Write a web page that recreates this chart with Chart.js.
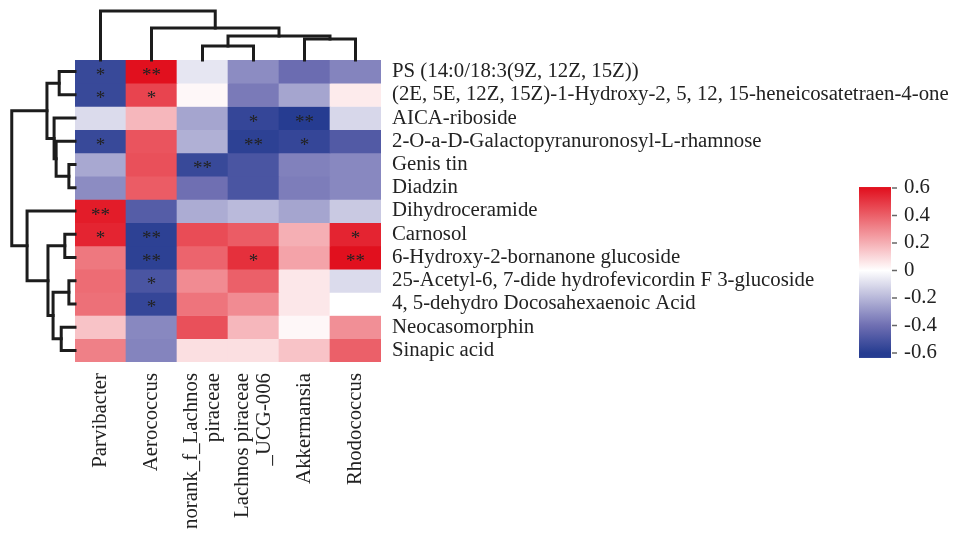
<!DOCTYPE html>
<html>
<head>
<meta charset="utf-8">
<script src="https://cdn.jsdelivr.net/npm/chart.js@4.4.1/dist/chart.umd.min.js"></script>
<style>
  html, body { margin: 0; padding: 0; background: #fff; }
  canvas { display: block; }
</style>
</head>
<body>
<canvas id="chart_area" width="955" height="534"></canvas>
<script>
// genera (columns) and metabolites (rows), in dendrogram order
const genera = ['Parvibacter', 'Aerococcus', ['norank_f_Lachnos', 'piraceae'], ['Lachnos piraceae', '_UCG-006'], 'Akkermansia', 'Rhodococcus'];
const metabolites = [
  'PS (14:0/18:3(9Z, 12Z, 15Z))',
  '(2E, 5E, 12Z, 15Z)-1-Hydroxy-2, 5, 12, 15-heneicosatetraen-4-one',
  'AICA-riboside',
  '2-O-a-D-Galactopyranuronosyl-L-rhamnose',
  'Genis tin',
  'Diadzin',
  'Dihydroceramide',
  'Carnosol',
  '6-Hydroxy-2-bornanone glucoside',
  '25-Acetyl-6, 7-dide hydrofevicordin F 3-glucoside',
  '4, 5-dehydro Docosahexaenoic Acid',
  'Neocasomorphin',
  'Sinapic acid'
];
// correlation per metabolite, one value per genus
const corr = [
  [-0.55,  0.60, -0.07, -0.32, -0.41, -0.34],
  [-0.55,  0.47,  0.02, -0.37, -0.25,  0.05],
  [-0.10,  0.18, -0.25, -0.56, -0.60, -0.11],
  [-0.55,  0.43, -0.22, -0.58, -0.56, -0.48],
  [-0.24,  0.44, -0.55, -0.50, -0.35, -0.33],
  [-0.32,  0.41, -0.40, -0.50, -0.36, -0.33],
  [ 0.57, -0.47, -0.23, -0.19, -0.25, -0.15],
  [ 0.55, -0.58,  0.45,  0.41,  0.20,  0.55],
  [ 0.34, -0.58,  0.39,  0.52,  0.23,  0.60],
  [ 0.37, -0.50,  0.29,  0.40,  0.06, -0.10],
  [ 0.36, -0.56,  0.35,  0.29,  0.06,  0.00],
  [ 0.15, -0.33,  0.44,  0.18,  0.02,  0.28],
  [ 0.32, -0.34,  0.08,  0.08,  0.15,  0.40]
];
// 1 = *, 2 = **
const stars = [
  [1, 2, 0, 0, 0, 0],
  [1, 1, 0, 0, 0, 0],
  [0, 0, 0, 1, 2, 0],
  [1, 0, 0, 2, 1, 0],
  [0, 0, 2, 0, 0, 0],
  [0, 0, 0, 0, 0, 0],
  [2, 0, 0, 0, 0, 0],
  [1, 2, 0, 0, 0, 1],
  [0, 2, 0, 1, 0, 2],
  [0, 1, 0, 0, 0, 0],
  [0, 1, 0, 0, 0, 0],
  [0, 0, 0, 0, 0, 0],
  [0, 0, 0, 0, 0, 0]
];
// dendrogram merges: [nodeA, nodeB, height]; leaves are 0..n-1, merge k makes node n+k
const rowTree = [
  [0, 1, 0.31], [4, 5, 0.12], [3, 14, 0.37], [2, 15, 0.41], [13, 16, 0.55],
  [7, 8, 0.20], [9, 10, 0.12], [11, 12, 0.27], [19, 20, 0.43], [18, 21, 0.53],
  [6, 22, 0.94], [17, 23, 1.24]
];
const colTree = [[2, 3, 0.60], [4, 5, 0.90], [6, 7, 1.03], [1, 8, 1.38], [0, 9, 2.11]];
const legendTicks = [0.6, 0.4, 0.2, 0, -0.2, -0.4, -0.6];

const serif = 'Liberation Serif';
const fontSize = 20.8;
const textColor = '#222';
// colour ramp stops: [position 0..1 away from zero, rgb]
const blueRamp = [[0, [255, 255, 255]], [0.67, [110, 110, 178]], [1, [38, 60, 145]]];
const redRamp = [[0, [255, 255, 255]], [1, [225, 16, 30]]];

function corrColor(v) {
  const t = Math.min(1, Math.abs(v) / 0.6);
  const ramp = v < 0 ? blueRamp : redRamp;
  let i = 1;
  while (i < ramp.length - 1 && t > ramp[i][0]) i++;
  const [p0, c0] = ramp[i - 1], [p1, c1] = ramp[i];
  const f = (t - p0) / (p1 - p0);
  const c = c0.map((a, k) => Math.round(a + (c1[k] - a) * f));
  return `rgb(${c[0]}, ${c[1]}, ${c[2]})`;
}

const heatSets = metabolites.map((name, r) => ({
  type: 'bar',
  label: name,
  data: corr[r].map((v, c) => ({ x: c + 0.5, y: [r, r + 1] })),
  backgroundColor: corr[r].map(corrColor),
  borderWidth: 0,
  grouped: false,
  barPercentage: 1,
  categoryPercentage: 1,
  order: 2
}));

// turn merges into U-shaped line datasets
function treeSets(tree, leafCount, sideways) {
  const pos = [], hgt = [];
  for (let i = 0; i < leafCount; i++) { pos[i] = i + 0.5; hgt[i] = 0; }
  return tree.map(([a, b, h], k) => {
    const n = leafCount + k;
    pos[n] = (pos[a] + pos[b]) / 2;
    hgt[n] = h;
    const pts = [[pos[a], hgt[a]], [pos[a], h], [pos[b], h], [pos[b], hgt[b]]];
    return {
      type: 'line',
      data: pts.map(([p, d]) => sideways ? { x: -d, y: p } : { x: p, y: -d }),
      borderColor: '#1c1c1c',
      borderWidth: 3,
      borderCapStyle: 'square',
      borderJoinStyle: 'miter',
      pointRadius: 0,
      fill: false,
      tension: 0,
      clip: false,
      order: 1
    };
  });
}

const labelPlugin = {
  id: 'heatLabels',
  afterDraw(chart) {
    const ctx = chart.ctx;
    const xs = chart.scales.x, ys = chart.scales.y;
    ctx.save();
    // significance stars
    ctx.font = `19px "${serif}"`;
    ctx.fillStyle = '#222';
    ctx.textAlign = 'center';
    ctx.textBaseline = 'alphabetic';
    const m = ctx.measureText('*');
    const shift = (m.actualBoundingBoxAscent - m.actualBoundingBoxDescent) / 2;
    stars.forEach((row, r) => row.forEach((s, c) => {
      if (!s) return;
      ctx.fillText('*'.repeat(s), xs.getPixelForValue(c + 0.5), ys.getPixelForValue(r + 0.5) + shift);
    }));
    // genus labels, rotated
    ctx.font = `${fontSize}px "${serif}"`;
    ctx.fillStyle = textColor;
    ctx.textAlign = 'right';
    ctx.textBaseline = 'middle';
    const top = chart.chartArea.bottom + 11;
    genera.forEach((g, c) => {
      const lines = Array.isArray(g) ? g : [g];
      const cx = xs.getPixelForValue(c + 0.5);
      lines.forEach((line, i) => {
        const x = cx + (i - (lines.length - 1) / 2) * 22;
        ctx.save();
        ctx.translate(x, top);
        ctx.rotate(-Math.PI / 2);
        ctx.fillText(line, 0, 0);
        ctx.restore();
      });
    });
    // colour key
    const barLeft = 859, barW = 32;
    const keyY = v => 270.5 - v * 137.5;
    const grad = ctx.createLinearGradient(0, keyY(0.6), 0, keyY(-0.6));
    for (let i = 0; i <= 24; i++) {
      const v = 0.6 - i * 0.05;
      grad.addColorStop(i / 24, corrColor(v));
    }
    ctx.fillStyle = grad;
    ctx.fillRect(barLeft, keyY(0.607), barW, keyY(-0.636) - keyY(0.607));
    ctx.strokeStyle = '#666';
    ctx.lineWidth = 1.5;
    ctx.fillStyle = textColor;
    ctx.textAlign = 'left';
    ctx.font = `${fontSize}px "${serif}"`;
    legendTicks.forEach(v => {
      const y = keyY(v);
      ctx.beginPath();
      ctx.moveTo(barLeft + barW + 1, y);
      ctx.lineTo(barLeft + barW + 6, y);
      ctx.stroke();
      ctx.fillText(String(v), barLeft + barW + 13, y);
    });
    ctx.restore();
  }
};

const chart = new Chart(document.getElementById('chart_area').getContext('2d'), {
  type: 'bar',
  data: { datasets: [...heatSets, ...treeSets(rowTree, metabolites.length, true), ...treeSets(colTree, genera.length, false)] },
  options: {
    responsive: false,
    animation: false,
    events: [],
    layout: { padding: { left: 75, top: 60, right: 0, bottom: 172 } },
    scales: {
      x: {
        type: 'linear', min: 0, max: 6, offset: false, display: false,
        ticks: { stepSize: 1 }
      },
      y: {
        type: 'linear', position: 'right', reverse: true, min: 0, max: 13,
        grid: { display: false, drawTicks: false },
        border: { display: false },
        afterBuildTicks: axis => { axis.ticks = metabolites.map((m, i) => ({ value: i + 0.5 })); },
        afterFit: axis => { axis.width = 574; },
        ticks: {
          autoSkip: false,
          padding: 11,
          color: textColor,
          font: { family: serif, size: fontSize },
          callback: (v, i) => metabolites[i]
        }
      }
    },
    plugins: { legend: { display: false }, tooltip: { enabled: false } }
  },
  plugins: [labelPlugin]
});
</script>
</body>
</html>
